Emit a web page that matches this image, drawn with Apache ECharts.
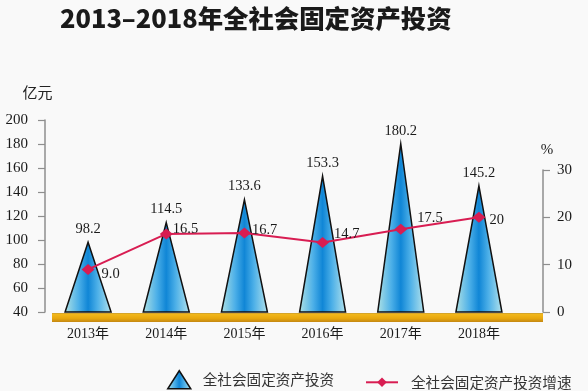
<!DOCTYPE html>
<html>
<head>
<meta charset="utf-8">
<script src="https://cdn.jsdelivr.net/npm/echarts@6/dist/echarts.min.js"></script>
<style>html,body{margin:0;padding:0;background:#f9f9f9;}#c{width:588px;height:391px;}</style>
</head>
<body>
<div id="c"></div>
<script>
const TITLE = '2013–2018年全社会固定资产投资';
const CATEGORIES = ['2013年', '2014年', '2015年', '2016年', '2017年', '2018年'];
const INVESTMENT = [98.2, 114.5, 133.6, 153.3, 180.2, 145.2];
const GROWTH = [9.0, 16.5, 16.7, 14.7, 17.5, 20];
const GROWTH_LABELS = ['9.0', '16.5', '16.7', '14.7', '17.5', '20'];
const LEFT_TICKS = [40, 60, 80, 100, 120, 140, 160, 180, 200];
const RIGHT_TICKS = [0, 10, 20, 30];
const SERIES_NAMES = ['全社会固定资产投资', '全社会固定资产投资增速'];

const SERIF = '"Liberation Serif", "DejaVu Serif", "Noto Sans CJK SC", serif';
const SANS = '"Noto Sans CJK SC", "Noto Sans", sans-serif';
const labelOffsets = [[7, 5], [0, -5], [1, -3], [5, -8], [10, -11], [4, 3]];
const LEFT_MIN = LEFT_TICKS[0];
const TRI_HALF = 23;

const triGrad = {
  type: 'linear', x: 0, y: 0, x2: 1, y2: 0,
  colorStops: [
    { offset: 0, color: '#b2e3e4' },
    { offset: 0.3, color: '#4db0e8' },
    { offset: 0.5, color: '#1086d6' },
    { offset: 0.7, color: '#4db0e8' },
    { offset: 1, color: '#b6e4ec' }
  ]
};
const bandGrad = {
  type: 'linear', x: 0, y: 312.5, x2: 0, y2: 321.5, global: true,
  colorStops: [
    { offset: 0, color: '#a8863e' },
    { offset: 0.18, color: '#f2b81c' },
    { offset: 0.65, color: '#e8a80e' },
    { offset: 1, color: '#c98c12' }
  ]
};
const axisGrey = '#8e8e8e';

const chart = echarts.init(document.getElementById('c'), null, { renderer: 'canvas' });
chart.setOption({
  backgroundColor: '#f9f9f9',
  animation: false,
  title: {
    text: TITLE, left: 55, top: 1,
    textStyle: { fontFamily: SANS, fontWeight: 900, fontSize: 25.4, color: '#1a1a1a' }
  },
  legend: [
    {
      data: [{ name: SERIES_NAMES[0], icon: 'triangle',
               itemStyle: { color: triGrad, borderColor: '#111', borderWidth: 1.5 } }],
      left: 167, top: 370, padding: 0, itemWidth: 23, itemHeight: 18,
      textStyle: { fontFamily: SANS, fontSize: 14.6, color: '#333', padding: [0, 0, 0, 7] }
    },
    {
      data: [{ name: SERIES_NAMES[1] }],
      left: 365, top: 375, padding: 0, itemWidth: 32, itemHeight: 12,
      textStyle: { fontFamily: SANS, fontSize: 14.6, color: '#333', padding: [0, 0, 0, 8] }
    }
  ],
  grid: [
    { left: 49, right: 70, top: 120, bottom: 79 },
    { left: 49, right: 70, top: 170, bottom: 79 },
    { left: 52, right: 45, top: 120, bottom: 74 }
  ],
  xAxis: [
    {
      type: 'category', gridIndex: 0, data: CATEGORIES,
      axisLine: { show: false }, axisTick: { show: false },
      axisLabel: { margin: 15, fontFamily: SERIF, fontSize: 14, color: '#1a1a1a' }
    },
    {
      type: 'category', gridIndex: 1, data: CATEGORIES, show: false
    },
    {
      type: 'category', gridIndex: 2, data: CATEGORIES,
      axisLine: { show: true, lineStyle: { width: 9, color: bandGrad, cap: 'butt' } },
      axisTick: { show: false }, axisLabel: { show: false }
    }
  ],
  yAxis: [
    {
      type: 'value', gridIndex: 0, position: 'left', offset: 4,
      min: LEFT_MIN, max: LEFT_TICKS[LEFT_TICKS.length - 1], interval: LEFT_TICKS[1] - LEFT_TICKS[0],
      name: '亿元', nameLocation: 'end', nameGap: 20,
      nameTextStyle: { fontFamily: SANS, fontSize: 15, color: '#222', padding: [0, 15, 0, 0] },
      axisLine: { show: true, lineStyle: { color: axisGrey, width: 1.5 } },
      axisTick: { show: true, inside: false, length: 7, lineStyle: { color: axisGrey, width: 1.2 } },
      axisLabel: { margin: 17, fontFamily: SERIF, fontSize: 15, color: '#1a1a1a' },
      splitLine: { show: false }
    },
    {
      type: 'value', gridIndex: 1, position: 'right', offset: 25,
      min: RIGHT_TICKS[0], max: RIGHT_TICKS[RIGHT_TICKS.length - 1], interval: RIGHT_TICKS[1] - RIGHT_TICKS[0],
      name: '%', nameLocation: 'end', nameGap: 12,
      nameTextStyle: { fontFamily: SERIF, fontSize: 15, color: '#222', padding: [0, 0, 0, 8] },
      axisLine: { show: true, lineStyle: { color: axisGrey, width: 1.5 } },
      axisTick: { show: true, inside: false, length: 7, lineStyle: { color: axisGrey, width: 1.2 } },
      axisLabel: { margin: 14, fontFamily: SERIF, fontSize: 15, color: '#1a1a1a' },
      splitLine: { show: false }
    },
    {
      type: 'value', gridIndex: 2, show: false, min: 0, max: 1
    }
  ],
  series: [
    {
      name: SERIES_NAMES[0], type: 'custom', xAxisIndex: 0, yAxisIndex: 0,
      data: INVESTMENT.map((v, i) => [CATEGORIES[i], v]),
      encode: { x: 0, y: 1 },
      itemStyle: { color: triGrad, borderColor: '#111', borderWidth: 1.5 },
      renderItem: function (params, api) {
        const xi = api.value(0);
        const v = api.value(1);
        const top = api.coord([xi, v]);
        const base = api.coord([xi, LEFT_MIN]);
        return {
          type: 'polygon',
          shape: { points: [[top[0], top[1]], [base[0] + TRI_HALF, base[1]], [base[0] - TRI_HALF, base[1]]] },
          style: { fill: triGrad, stroke: '#111', lineWidth: 1.5, lineJoin: 'miter' },
          textContent: {
            style: { text: String(v), fontFamily: SERIF, fontSize: 14.5, fill: '#1a1a1a' }
          },
          textConfig: { position: 'top', distance: 5 }
        };
      },
      z: 3
    },
    {
      name: SERIES_NAMES[1], type: 'line', xAxisIndex: 1, yAxisIndex: 1,
      data: GROWTH.map((v, i) => ({
        value: v,
        label: { offset: labelOffsets[i] }
      })),
      symbol: 'diamond', symbolSize: [13, 11],
      lineStyle: { color: '#d81d52', width: 2 },
      itemStyle: { color: '#d81d52' },
      label: {
        show: true, position: 'right', distance: 0,
        formatter: p => GROWTH_LABELS[p.dataIndex],
        fontFamily: SERIF, fontSize: 14.5, color: '#1a1a1a'
      },
      z: 5
    }
  ]
});
</script>
</body>
</html>
